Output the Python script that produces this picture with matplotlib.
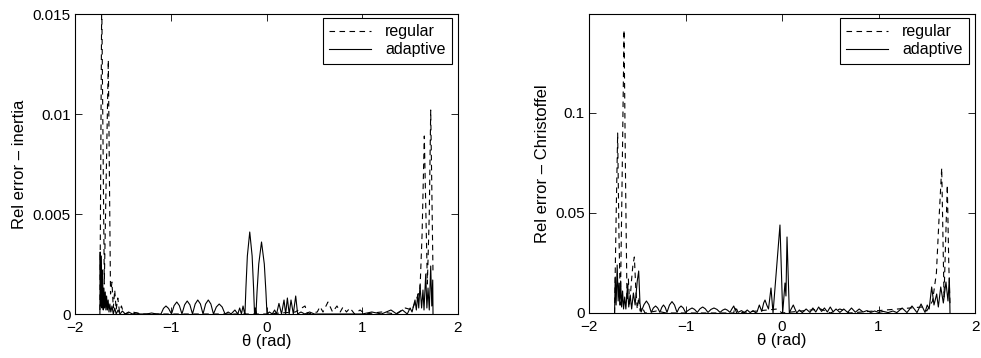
import numpy as np
import matplotlib
matplotlib.use('Agg')
import matplotlib.pyplot as plt

plt.rcParams['font.family'] = ['Liberation Sans', 'DejaVu Sans']

# --- inertia, regular grid (dashed) ---
theta_reg_in = [-1.740, -1.721, -1.694, -1.652, -1.629, -1.614, -1.600, -1.585, -1.570, -1.553,
                -1.535, -1.515, -1.490, -1.400, -1.300, -1.100, -0.500, 0.000, 0.300, 0.402,
                0.430, 0.530, 0.559, 0.590, 0.642, 0.690, 0.736, 0.770, 0.799, 0.835,
                0.872, 0.920, 0.977, 1.030, 1.200, 1.350, 1.450, 1.520, 1.570, 1.603,
                1.625, 1.648, 1.680, 1.700, 1.715, 1.739]
err_reg_in = [0.0002, 0.0158, 0.0015, 0.0127, 0.0010, 0.0016, 0.0003, 0.0012, 0.0002, 0.0008,
              0.0001, 0.0004, 0.0, 0.0001, 0.0, 0.0, 0.0, 0.0, 0.0001, 0.0004,
              0.0, 0.0001, 0.00037, 0.0001, 0.0006, 0.0001, 0.0004, 0.0001, 0.00035, 0.0001,
              0.0003, 0.0, 0.0002, 0.0, 0.0001, 0.0, 0.0003, 0.0002, 0.0008, 0.0012,
              0.004, 0.0089, 0.0015, 0.005, 0.0102, 0.002]

# --- inertia, adaptive grid (solid) ---
theta_ada_in = [-1.740, -1.737, -1.731, -1.725, -1.719, -1.712, -1.705, -1.698, -1.691, -1.684,
                -1.677, -1.670, -1.662, -1.654, -1.645, -1.636, -1.626, -1.614, -1.600, -1.585,
                -1.570, -1.550, -1.530, -1.505, -1.475, -1.440, -1.400, -1.360, -1.320, -1.250,
                -1.200, -1.150, -1.102, -1.076, -1.050, -1.023, -0.992, -0.965, -0.937, -0.910,
                -0.883, -0.855, -0.828, -0.800, -0.773, -0.745, -0.718, -0.690, -0.663, -0.636,
                -0.608, -0.581, -0.554, -0.524, -0.494, -0.463, -0.433, -0.400, -0.370, -0.330,
                -0.300, -0.280, -0.262, -0.245, -0.232, -0.225, -0.215, -0.200, -0.175, -0.150,
                -0.135, -0.125, -0.117, -0.110, -0.099, -0.081, -0.052, -0.023, -0.006, 0.005,
                0.030, 0.060, 0.085, 0.105, 0.130, 0.157, 0.183, 0.200, 0.218, 0.237,
                0.256, 0.280, 0.305, 0.325, 0.360, 0.400, 0.450, 0.500, 1.000, 1.100,
                1.200, 1.300, 1.360, 1.420, 1.470, 1.500, 1.520, 1.551, 1.565, 1.580,
                1.590, 1.603, 1.620, 1.634, 1.645, 1.663, 1.675, 1.687, 1.700, 1.715,
                1.726, 1.736, 1.739]
err_ada_in = [0.0, 0.0031, 0.0004, 0.0029, 0.0003, 0.0022, 0.0002, 0.0013, 0.0003, 0.0011,
              0.0002, 0.0009, 0.0002, 0.0007, 0.0001, 0.0005, 0.0001, 0.0004, 0.0, 0.0003,
              0.0, 0.0002, 0.0, 0.00015, 0.0, 0.0001, 0.0, 0.00005, 0.0, 0.0,
              0.00005, 0.0, 0.0, 0.00028, 0.0004, 0.00028, 0.0, 0.00042, 0.0006, 0.00042,
              0.0, 0.00046, 0.00065, 0.00046, 0.0, 0.0005, 0.0007, 0.0005, 0.0, 0.0005,
              0.0007, 0.0005, 0.0, 0.00035, 0.0005, 0.00035, 0.0, 0.0001, 0.0, 0.0002,
              0.0, 0.0003, 0.0, 0.0004, 0.0001, 0.0, 0.0013, 0.0029, 0.0041, 0.0029,
              0.0013, 0.0, 0.0003, 0.0, 0.0011, 0.0025, 0.0036, 0.0025, 0.0011, 0.0,
              0.0001, 0.0, 0.0002, 0.0, 0.00053, 0.0, 0.0007, 0.0, 0.0008, 0.0,
              0.0007, 0.0, 0.0009, 0.0, 0.0001, 0.0, 0.0001, 0.0, 0.0, 0.0001,
              0.0, 0.0002, 0.0, 0.0002, 0.0, 0.0003, 0.0001, 0.0007, 0.0002, 0.0010,
              0.0003, 0.00145, 0.0003, 0.0012, 0.0002, 0.0020, 0.0003, 0.0013, 0.0002, 0.0024,
              0.0004, 0.0017, 0.0]

# --- Christoffel, regular grid (dashed) ---
theta_reg_ch = [-1.735, -1.720, -1.703, -1.690, -1.675, -1.656, -1.637, -1.621, -1.606, -1.592,
                -1.578, -1.560, -1.545, -1.530, -1.515, -1.500, -1.485, -1.470, -1.450, -1.420,
                -1.300, -1.200, -0.500, -0.490, -0.470, -0.050, 0.000, 0.400, 0.500, 0.600,
                0.700, 1.450, 1.500, 1.560, 1.600, 1.625, 1.655, 1.679, 1.695, 1.713,
                1.728, 1.741]
err_reg_ch = [0.0, 0.045, 0.090, 0.040, 0.004, 0.070, 0.1415, 0.065, 0.006, 0.017,
              0.004, 0.016, 0.024, 0.028, 0.012, 0.002, 0.008, 0.001, 0.003, 0.0,
              0.001, 0.0, 0.0, 0.003, 0.0, 0.002, 0.0, 0.002, 0.0, 0.002,
              0.0, 0.003, 0.001, 0.006, 0.020, 0.045, 0.0725, 0.008, 0.035, 0.064,
              0.025, 0.004]

# --- Christoffel, adaptive grid (solid) ---
theta_ada_ch = [-1.735, -1.728, -1.719, -1.708, -1.698, -1.689, -1.681, -1.672, -1.662, -1.652,
                -1.642, -1.630, -1.618, -1.602, -1.588, -1.573, -1.558, -1.540, -1.522, -1.500,
                -1.485, -1.472, -1.460, -1.430, -1.405, -1.380, -1.355, -1.333, -1.310, -1.288,
                -1.265, -1.246, -1.228, -1.210, -1.192, -1.166, -1.140, -1.114, -1.088, -1.067,
                -1.046, -1.023, -1.000, -0.958, -0.932, -0.906, -0.878, -0.850, -0.822, -0.795,
                -0.767, -0.736, -0.705, -0.674, -0.642, -0.616, -0.590, -0.565, -0.539, -0.520,
                -0.500, -0.485, -0.470, -0.456, -0.420, -0.390, -0.360, -0.330, -0.300, -0.275,
                -0.259, -0.235, -0.210, -0.190, -0.176, -0.158, -0.140, -0.125, -0.114, -0.093,
                -0.021, 0.007, 0.031, 0.041, 0.052, 0.076, 0.095, 0.117, 0.152, 0.180,
                0.210, 0.250, 0.290, 0.320, 0.350, 0.380, 0.410, 0.440, 0.470, 0.500,
                0.530, 0.560, 0.600, 0.640, 0.680, 0.720, 0.760, 0.800, 0.840, 0.880,
                0.920, 0.960, 1.000, 1.050, 1.100, 1.150, 1.190, 1.245, 1.295, 1.347,
                1.399, 1.441, 1.482, 1.505, 1.525, 1.551, 1.575, 1.603, 1.620, 1.645,
                1.672, 1.699, 1.720, 1.734, 1.741]
err_ada_ch = [0.0, 0.018, 0.004, 0.024, 0.006, 0.015, 0.004, 0.016, 0.003, 0.011,
              0.002, 0.008, 0.002, 0.013, 0.003, 0.009, 0.002, 0.010, 0.004, 0.016,
              0.021, 0.005, 0.0005, 0.0042, 0.006, 0.0042, 0.0003, 0.0025, 0.0035, 0.0025,
              0.0003, 0.0028, 0.004, 0.0028, 0.0003, 0.004, 0.0057, 0.004, 0.0003, 0.0025,
              0.0035, 0.0025, 0.0003, 0.0018, 0.0025, 0.0018, 0.0003, 0.0021, 0.003, 0.0021,
              0.0003, 0.0018, 0.0025, 0.0018, 0.0003, 0.0014, 0.002, 0.0014, 0.0003, 0.002,
              0.0035, 0.0015, 0.002, 0.0003, 0.0012, 0.0002, 0.0015, 0.0002, 0.0012, 0.0002,
              0.0005, 0.004, 0.0008, 0.005, 0.0065, 0.004, 0.002, 0.008, 0.0125, 0.0,
              0.044, 0.0, 0.015, 0.0085, 0.038, 0.0, 0.002, 0.004, 0.0, 0.0015,
              0.0002, 0.002, 0.0003, 0.0025, 0.0005, 0.003, 0.0008, 0.0025, 0.0005, 0.003,
              0.0006, 0.002, 0.0003, 0.002, 0.0003, 0.0025, 0.0004, 0.002, 0.0005, 0.0012,
              0.0003, 0.001, 0.0003, 0.0008, 0.0002, 0.001, 0.0002, 0.0025, 0.0002, 0.0035,
              0.0002, 0.0045, 0.0003, 0.004, 0.002, 0.013, 0.004, 0.0095, 0.003, 0.013,
              0.005, 0.0155, 0.006, 0.0175, 0.0]

x_ticks = [-2, -1, 0, 1, 2]
x_tick_labels = ['\u22122', '\u22121', '0', '1', '2']
y_ticks_in = [0, 0.005, 0.01, 0.015]
y_tick_labels_in = ['0', '0.005', '0.01', '0.015']
y_ticks_ch = [0, 0.05, 0.1]
y_tick_labels_ch = ['0', '0.05', '0.1']


def draw_panel(ax, th_reg, e_reg, th_ada, e_ada, ylim, yticks, ylabels, ylabel):
    ax.plot(th_reg, e_reg, color='black', linewidth=0.8, linestyle=(0, (5, 4)), label='regular')
    ax.plot(th_ada, e_ada, color='black', linewidth=0.8, linestyle='-', label='adaptive')
    ax.set_xlim(-2, 2)
    ax.set_ylim(*ylim)
    ax.set_xticks(x_ticks)
    ax.set_xticklabels(x_tick_labels)
    ax.set_yticks(yticks)
    ax.set_yticklabels(ylabels)
    ax.tick_params(direction='in', length=5, width=0.6, top=True, right=True,
                   labelsize=11, pad=3)
    ax.tick_params(axis='x', pad=5)
    for sp in ax.spines.values():
        sp.set_linewidth(0.8)
    ax.set_xlabel('\u03b8 (rad)', fontsize=12, labelpad=-1)
    ax.set_ylabel(ylabel, fontsize=12, labelpad=4)
    leg = ax.legend(loc='upper right', bbox_to_anchor=(0.984, 0.987), fontsize=11.5,
                    handlelength=2.6, fancybox=False, framealpha=1, borderpad=0.4,
                    labelspacing=0.2, handletextpad=0.9, borderaxespad=0)
    leg.get_frame().set_edgecolor('black')
    leg.get_frame().set_linewidth(0.8)


fig = plt.figure(figsize=(9.81, 3.58), dpi=100)
ax1 = fig.add_axes([75 / 981, 1 - 314 / 358, 383 / 981, 300 / 358])
ax2 = fig.add_axes([589 / 981, 1 - 313 / 358, 386 / 981, 299 / 358])

draw_panel(ax1, theta_reg_in, err_reg_in, theta_ada_in, err_ada_in, (0, 0.015),
           y_ticks_in, y_tick_labels_in, 'Rel error \u2013 inertia')
draw_panel(ax2, theta_reg_ch, err_reg_ch, theta_ada_ch, err_ada_ch, (0, 0.1495),
           y_ticks_ch, y_tick_labels_ch, 'Rel error \u2013 Christoffel')

fig.savefig('out.png', dpi=100)
